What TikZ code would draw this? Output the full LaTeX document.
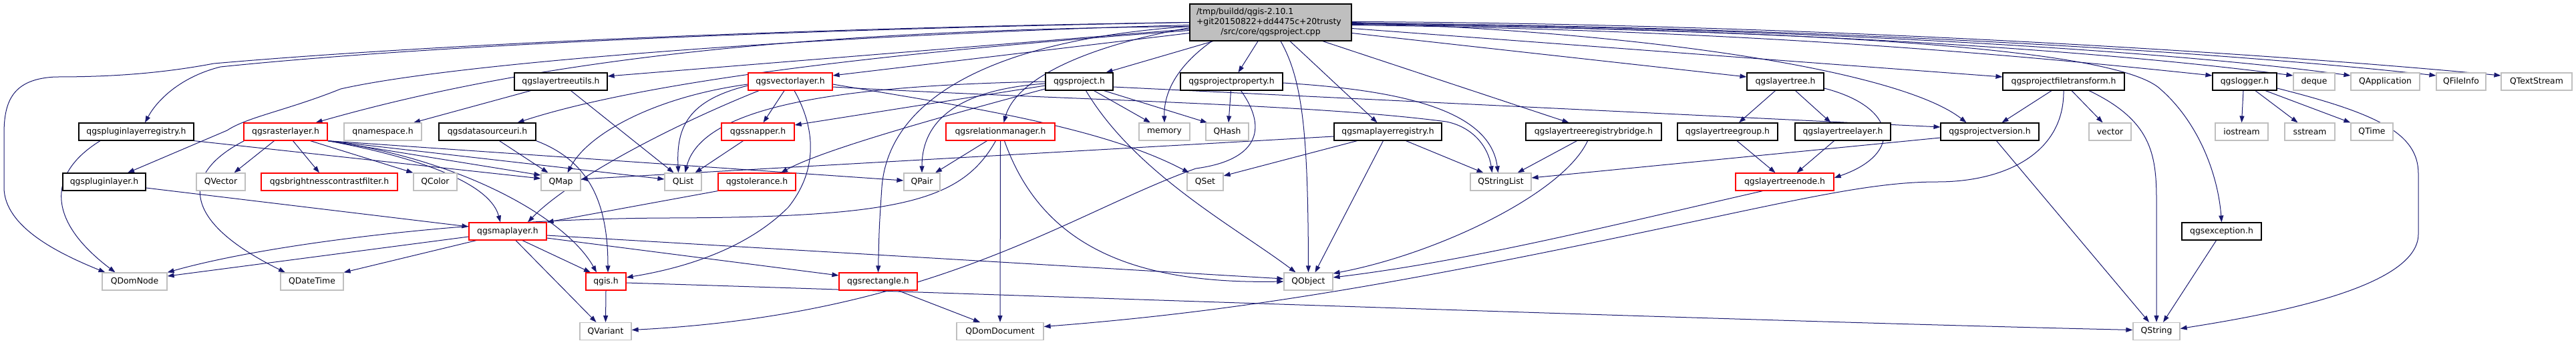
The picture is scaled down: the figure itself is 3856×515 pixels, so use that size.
\documentclass[tikz,border=0pt]{standalone}
\usepackage{fontspec}
\setmainfont{DejaVu Sans}
\usetikzlibrary{arrows.meta}
\definecolor{navyc}{RGB}{25,25,112}
\definecolor{grayb}{RGB}{191,191,191}
\pgfdeclarelayer{bg}
\pgfsetlayers{bg,main}
\begin{document}
\begin{tikzpicture}[x=1pt,y=-1pt,
  box/.style={inner sep=0pt, minimum height=26pt, line width=1.2pt, fill=white, font=\fontsize{12.4pt}{15pt}\selectfont},
  blk/.style={box, draw=black},
  redb/.style={box, draw=red},
  gryb/.style={box, draw=grayb},
  mainb/.style={draw=black, fill=grayb, line width=1.2pt, inner xsep=10pt, inner ysep=0pt, minimum height=55pt, text width=222pt, align=left, font=\fontsize{12.4pt}{15pt}\selectfont},
  inc/.style={draw=navyc, line width=1pt, -{Triangle[length=10pt,width=7pt]}}]
\useasboundingbox (0,0) rectangle (3856,515);
% main
\node[mainb] (main) at (1902,33.5) {/tmp/buildd/qgis-2.10.1\\+git20150822+dd4475c+20trusty\par\centering /src/core/qgsproject.cpp\par};
% row 1
\node[blk, minimum width=139pt] (ltu) at (839.5,122) {qgslayertreeutils.h};
\node[redb, minimum width=126pt] (vl) at (1183,122) {qgsvectorlayer.h};
\node[blk, minimum width=101pt] (proj) at (1615.5,122) {qgsproject.h};
\node[blk, minimum width=153pt] (pp) at (1843.5,122) {qgsprojectproperty.h};
\node[blk, minimum width=115pt] (lt) at (2672.5,122) {qgslayertree.h};
\node[blk, minimum width=182pt] (pft) at (3089,122) {qgsprojectfiletransform.h};
\node[blk, minimum width=96pt] (log) at (3360,122) {qgslogger.h};
\node[gryb, minimum width=62pt] (deque) at (3464,122) {deque};
\node[gryb, minimum width=103pt] (qapp) at (3570.5,122) {QApplication};
\node[gryb, minimum width=74pt] (qfi) at (3684,122) {QFileInfo};
\node[gryb, minimum width=106pt] (qts) at (3797,122) {QTextStream};
% row 2
\node[blk, minimum width=172pt] (plr) at (204,197) {qgspluginlayerregistry.h};
\node[redb, minimum width=125pt] (rl) at (427.5,197) {qgsrasterlayer.h};
\node[gryb, minimum width=116pt] (qns) at (573,197) {qnamespace.h};
\node[blk, minimum width=145pt] (dsu) at (729.5,197) {qgsdatasourceuri.h};
\node[redb, minimum width=109pt] (snap) at (1134.5,197) {qgssnapper.h};
\node[redb, minimum width=163pt] (rm) at (1497.5,197) {qgsrelationmanager.h};
\node[gryb, minimum width=76pt] (mem) at (1743,197) {memory};
\node[gryb, minimum width=64pt] (qhash) at (1837,197) {QHash};
\node[blk, minimum width=161pt] (mlr) at (2077.5,197) {qgsmaplayerregistry.h};
\node[blk, minimum width=203pt] (ltrb) at (2385.5,197) {qgslayertreeregistrybridge.h};
\node[blk, minimum width=150pt] (ltg) at (2586,197) {qgslayertreegroup.h};
\node[blk, minimum width=143pt] (ltl) at (2758.5,197) {qgslayertreelayer.h};
\node[blk, minimum width=147pt] (pv) at (2978.5,197) {qgsprojectversion.h};
\node[gryb, minimum width=63pt] (vector) at (3158.5,197) {vector};
\node[gryb, minimum width=79pt] (iostream) at (3355.5,197) {iostream};
\node[gryb, minimum width=75pt] (sstream) at (3457.5,197) {sstream};
\node[gryb, minimum width=63pt] (qtime) at (3550.5,197) {QTime};
% row 3
\node[blk, minimum width=124pt] (pl) at (156,272) {qgspluginlayer.h};
\node[gryb, minimum width=73pt] (qvec) at (330.5,272) {QVector};
\node[redb, minimum width=204pt] (bcf) at (493,272) {qgsbrightnesscontrastfilter.h};
\node[gryb, minimum width=65pt] (qcolor) at (651.5,272) {QColor};
\node[gryb, minimum width=59pt] (qmap) at (839.5,272) {QMap};
\node[gryb, minimum width=55pt] (qlist) at (1022.5,272) {QList};
\node[redb, minimum width=116pt] (tol) at (1133,272) {qgstolerance.h};
\node[gryb, minimum width=54pt] (qpair) at (1380,272) {QPair};
\node[gryb, minimum width=54pt] (qset) at (1804,272) {QSet};
\node[gryb, minimum width=91pt] (qsl) at (2246.5,272) {QStringList};
\node[redb, minimum width=147pt] (ltn) at (2671.5,272) {qgslayertreenode.h};
% row 4
\node[redb, minimum width=116pt] (ml) at (760,346) {qgsmaplayer.h};
\node[blk, minimum width=119pt] (exc) at (3325.5,346) {qgsexception.h};
% row 5
\node[gryb, minimum width=97pt] (qdn) at (201.5,421) {QDomNode};
\node[gryb, minimum width=94pt] (qdt) at (467,421) {QDateTime};
\node[redb, minimum width=60pt] (qgis) at (907,421) {qgis.h};
\node[redb, minimum width=117pt] (rect) at (1314.5,421) {qgsrectangle.h};
\node[gryb, minimum width=73pt] (qobj) at (1958.5,421) {QObject};
% row 6
\node[gryb, minimum width=77pt] (qvar) at (906.5,495.5) {QVariant};
\node[gryb, minimum width=130pt] (qdd) at (1497,495.5) {QDomDocument};
\node[gryb, minimum width=70pt] (qstr) at (3228,495.5) {QString};
\begin{pgfonlayer}{bg}
% ---------------- edges from main
\draw[inc] (main.west) .. controls (1300,40) and (700,62) .. (320,95) .. controls (230,112) and (150,115) .. (83,115) .. controls (20,118) and (6,150) .. (6,200) -- (6,280) .. controls (6,340) and (90,380) .. ([xshift=-44pt]qdn.north);
\draw[inc] (main.west) .. controls (1300,42) and (700,62) .. (330,100) .. controls (270,115) and (235,150) .. ([xshift=13pt]plr.north);
\draw[inc] ([yshift=-4pt]main.west) .. controls (1300,50) and (700,90) .. (510,133) .. controls (430,165) and (370,175) .. (340,195) -- ([xshift=35pt]pl.north);
\draw[inc] ([yshift=-6pt]main.west) .. controls (1200,45) and (800,90) .. ([xshift=45pt]rl.north);
\draw[inc] ([yshift=-10pt]main.west) -- ([yshift=8pt]ltu.east);
\draw[inc] ([yshift=-12pt]main.west) .. controls (1450,70) and (1000,110) .. ([xshift=45pt]dsu.north);
\draw[inc] ([yshift=-16pt]main.west) -- ([yshift=9pt]vl.east);
\draw[inc] ([yshift=-8pt]main.west) .. controls (1620,70) and (1520,120) .. ([xshift=5pt]rm.north);
\draw[inc] ([yshift=-6pt]main.west) .. controls (1480,60) and (1330,150) .. (1320,280) .. controls (1316,340) .. (rect.north);
\draw[inc] ([xshift=-86pt]main.south) -- ([xshift=40pt]proj.north);
\draw[inc] ([xshift=-88pt]main.south) .. controls (1760,100) and (1742,140) .. (mem.north);
\draw[inc] ([xshift=-19pt]main.south) -- ([xshift=10pt]pp.north);
\draw[inc] ([xshift=15pt]main.south) .. controls (1950,120) and (1958,200) .. (qobj.north);
\draw[inc] ([xshift=29pt]main.south) -- ([xshift=-16pt]mlr.north);
\draw[inc] ([xshift=78pt]main.south) -- ([xshift=-37pt]ltrb.north);
\draw[inc] ([yshift=-16pt]main.east) -- ([yshift=7pt]lt.west);
\draw[inc] (main.east) .. controls (2500,50) and (2850,110) .. ([xshift=-35pt]pv.north);
\draw[inc] ([yshift=-9pt]main.east) -- ([yshift=7pt]pft.west);
\draw[inc] ([yshift=-2pt]main.east) .. controls (2700,45) and (3150,70) .. (3230,130) .. controls (3290,180) and (3320,260) .. (exc.north);
\draw[inc] ([yshift=-4pt]main.east) .. controls (2600,45) and (3000,80) .. ([yshift=9pt]log.west);
\draw[inc] ([yshift=-3pt]main.east) .. controls (2600,42) and (3100,70) .. ([yshift=9pt]deque.west);
\draw[inc] ([yshift=-1pt]main.east) .. controls (2600,40) and (3200,70) .. ([yshift=9pt]qapp.west);
\draw[inc] ([yshift=-1pt]main.east) .. controls (2700,40) and (3300,75) .. ([yshift=9pt]qfi.west);
\draw[inc] ([yshift=1pt]main.east) .. controls (2700,35) and (3400,80) .. ([yshift=9pt]qts.west);
% ---------------- other edges
\draw[inc] ([xshift=-45pt]ltu.south) -- ([xshift=46pt]qns.north);
\draw[inc] ([xshift=15pt]ltu.south) -- ([xshift=-14pt]qlist.north);
\draw[inc] ([xshift=-54pt]plr.south) .. controls (70,260) and (70,330) .. ([xshift=-29pt]qdn.north);
\draw[inc] (plr.south east) -- ([yshift=5pt]qmap.west);
\draw[inc] ([yshift=-9pt]pl.east) -- ([yshift=7pt]ml.west);
\draw[inc] ([xshift=-62pt]rl.south) .. controls (270,260) and (270,330) .. ([xshift=-40pt]qdt.north);
\draw[inc] ([xshift=-17pt]rl.south) -- ([xshift=20pt]qvec.north);
\draw[inc] ([xshift=11pt]rl.south) -- ([xshift=-15pt]bcf.north);
\draw[inc] ([xshift=37pt]rl.south) -- (qcolor.north west);
\draw[inc] (rl.south east) .. controls (650,240) and (735,280) .. ([xshift=-11pt]ml.north);
\draw[inc] (rl.south east) .. controls (700,240) and (850,330) .. ([xshift=-14pt]qgis.north);
\draw[inc] (rl.south east) -- ([yshift=10pt]qmap.west);
\draw[inc] (rl.south east) -- ([yshift=4pt]qlist.west);
\draw[inc] (rl.south east) -- ([yshift=2pt]qpair.west);
\draw[inc] ([xshift=18pt]dsu.south) -- ([xshift=-19pt]qmap.north);
\draw[inc] (dsu.south east) .. controls (880,240) and (910,300) .. ([xshift=3pt]qgis.north);
\draw[inc] ([yshift=-4pt]vl.west) .. controls (980,145) and (880,200) .. ([xshift=10pt]qmap.north);
\draw[inc] ([xshift=-47pt]vl.south) .. controls (1000,190) and (850,270) .. ([xshift=30pt]ml.north);
\draw[inc] ([yshift=-6pt]vl.west) .. controls (1030,150) and (1012,190) .. ([xshift=-7pt]qlist.north);
\draw[inc] (proj.west) .. controls (1250,128) and (1050,160) .. ([xshift=3pt]qlist.north);
\draw[inc] ([xshift=-22pt]snap.south) -- ([xshift=18pt]qlist.north);
\draw[inc] ([xshift=-9pt]vl.south) -- ([xshift=8pt]snap.north);
\draw[inc] ([yshift=-6pt]proj.west) -- ([yshift=10pt]snap.east);
\draw[inc] ([yshift=-11pt]proj.west) .. controls (1350,190) and (1220,230) .. ([xshift=36pt]tol.north);
\draw[inc] ([yshift=-3pt]proj.west) .. controls (1420,135) and (1380,190) .. (qpair.north);
\draw[inc] ([xshift=6pt]vl.south) .. controls (1225,200) and (1220,260) .. (1180,310) .. controls (1120,370) and (1030,400) .. ([yshift=6pt]qgis.east);
\draw[inc] ([yshift=-4pt]vl.east) .. controls (1450,160) and (1650,190) .. ([xshift=-24pt]qset.north);
\draw[inc] ([yshift=-8pt]vl.east) .. controls (1600,150) and (1960,155) .. (2165,182) .. controls (2205,190) and (2228,220) .. ([xshift=-13pt]qsl.north);
\draw[inc] ([yshift=-2pt]pp.east) .. controls (2100,135) and (2230,165) .. ([xshift=-4pt]qsl.north);
\draw[inc] ([yshift=-8pt]proj.east) -- ([yshift=7pt]pv.west);
\draw[inc] ([xshift=-20pt]rm.south) -- ([xshift=20pt]qpair.north);
\draw[inc] (rm.south) -- (qdd.north);
\draw[inc] ([xshift=6pt]rm.south) .. controls (1560,370) and (1700,425) .. (qobj.west);
\draw[inc] ([xshift=-7pt]rm.south) .. controls (1440,300) and (1350,325) .. (1000,326) .. controls (700,327) and (400,365) .. (qdn.north east);
\draw[inc] ([xshift=22pt]proj.south) -- ([xshift=-21pt]mem.north);
\draw[inc] ([xshift=37pt]proj.south) -- ([xshift=-30pt]qhash.north);
\draw[inc] ([xshift=10pt]proj.south) .. controls (1700,260) and (1850,340) .. ([xshift=-19pt]qobj.north);
\draw[inc] ([xshift=-1pt]pp.south) -- ([xshift=2pt]qhash.north);
\draw[inc] ([xshift=14pt]pp.south) .. controls (1900,195) and (1880,240) .. (1790,252) .. controls (1600,320) and (1400,470) .. ([yshift=2pt]qvar.east);
\draw[inc] ([yshift=-7pt]mlr.west) -- ([yshift=4pt]qmap.east);
\draw[inc] ([xshift=-46pt]mlr.south) -- ([yshift=9pt]qset.east);
\draw[inc] ([xshift=-7pt]mlr.south) -- ([xshift=10pt]qobj.north);
\draw[inc] ([xshift=27pt]mlr.south) -- ([xshift=-26pt]qsl.north);
\draw[inc] ([xshift=-25pt]ltrb.south) -- ([xshift=25pt]qsl.north);
\draw[inc] ([xshift=-9pt]ltrb.south) .. controls (2340,290) and (2150,380) .. ([yshift=12pt]qobj.east);
\draw[inc] ([xshift=-33pt]ltn.south) .. controls (2400,340) and (2200,390) .. ([yshift=6pt]qobj.east);
\draw[inc] (pft.south) .. controls (3090,230) and (3000,272) .. (2900,272) .. controls (2780,272) and (2650,310) .. (2300,380) .. controls (2000,440) and (1800,470) .. ([yshift=7pt]qdd.east);
\draw[inc] ([xshift=-18pt]pft.south) -- ([xshift=18pt]pv.north);
\draw[inc] ([xshift=12pt]pft.south) -- ([xshift=-11pt]vector.north);
\draw[inc] ([xshift=38pt]pft.south) .. controls (3220,180) and (3228,230) .. (3228,300) -- (qstr.north);
\draw[inc] ([xshift=10pt]pv.south) -- ([xshift=-11pt]qstr.north);
\draw[inc] ([yshift=-9pt]pv.west) -- ([yshift=6pt]qsl.east);
\draw[inc] ([xshift=-15pt]lt.south) -- ([xshift=17pt]ltg.north);
\draw[inc] ([xshift=15pt]lt.south) -- ([xshift=-18pt]ltl.north);
\draw[inc] ([yshift=-10pt]lt.east) .. controls (2840,160) and (2850,230) .. ([yshift=6pt]ltn.east);
\draw[inc] ([xshift=14pt]ltg.south) -- ([xshift=-14pt]ltn.north);
\draw[inc] ([xshift=-13pt]ltl.south) -- ([xshift=18pt]ltn.north);
\draw[inc] ([xshift=-2pt]log.south) -- (iostream.north);
\draw[inc] ([xshift=16pt]log.south) -- ([xshift=-18pt]sstream.north);
\draw[inc] ([xshift=31pt]log.south) -- (qtime.north west);
\draw[inc] ([yshift=-10pt]log.east) .. controls (3560,170) and (3620,200) .. (3620,260) -- (3620,350) .. controls (3620,430) and (3400,470) .. ([yshift=4pt]qstr.east);
\draw[inc] ([xshift=-8pt]exc.south) -- ([xshift=10pt]qstr.north);
\draw[inc] ([yshift=-2pt]qgis.east) .. controls (1500,440) and (2600,480) .. ([yshift=2pt]qstr.west);
\draw[inc] (qgis.south) -- (qvar.north);
\draw[inc] ([yshift=-8pt]ml.west) -- ([yshift=8pt]qdn.east);
\draw[inc] ([xshift=-47pt]ml.south) -- (qdt.north east);
\draw[inc] ([xshift=22pt]ml.south) -- ([xshift=-23pt]qgis.north);
\draw[inc] ([xshift=12pt]ml.south) -- ([xshift=-14pt]qvar.north);
\draw[inc] ([yshift=-6pt]ml.east) -- ([yshift=4pt]qobj.west);
\draw[inc] ([yshift=-10pt]ml.east) -- ([yshift=9pt]rect.west);
\draw[inc] (tol.south west) -- (ml.north east);
\draw[inc] ([xshift=30pt]rect.south) -- ([xshift=-30pt]qdd.north);
\end{pgfonlayer}
\end{tikzpicture}
\end{document}
